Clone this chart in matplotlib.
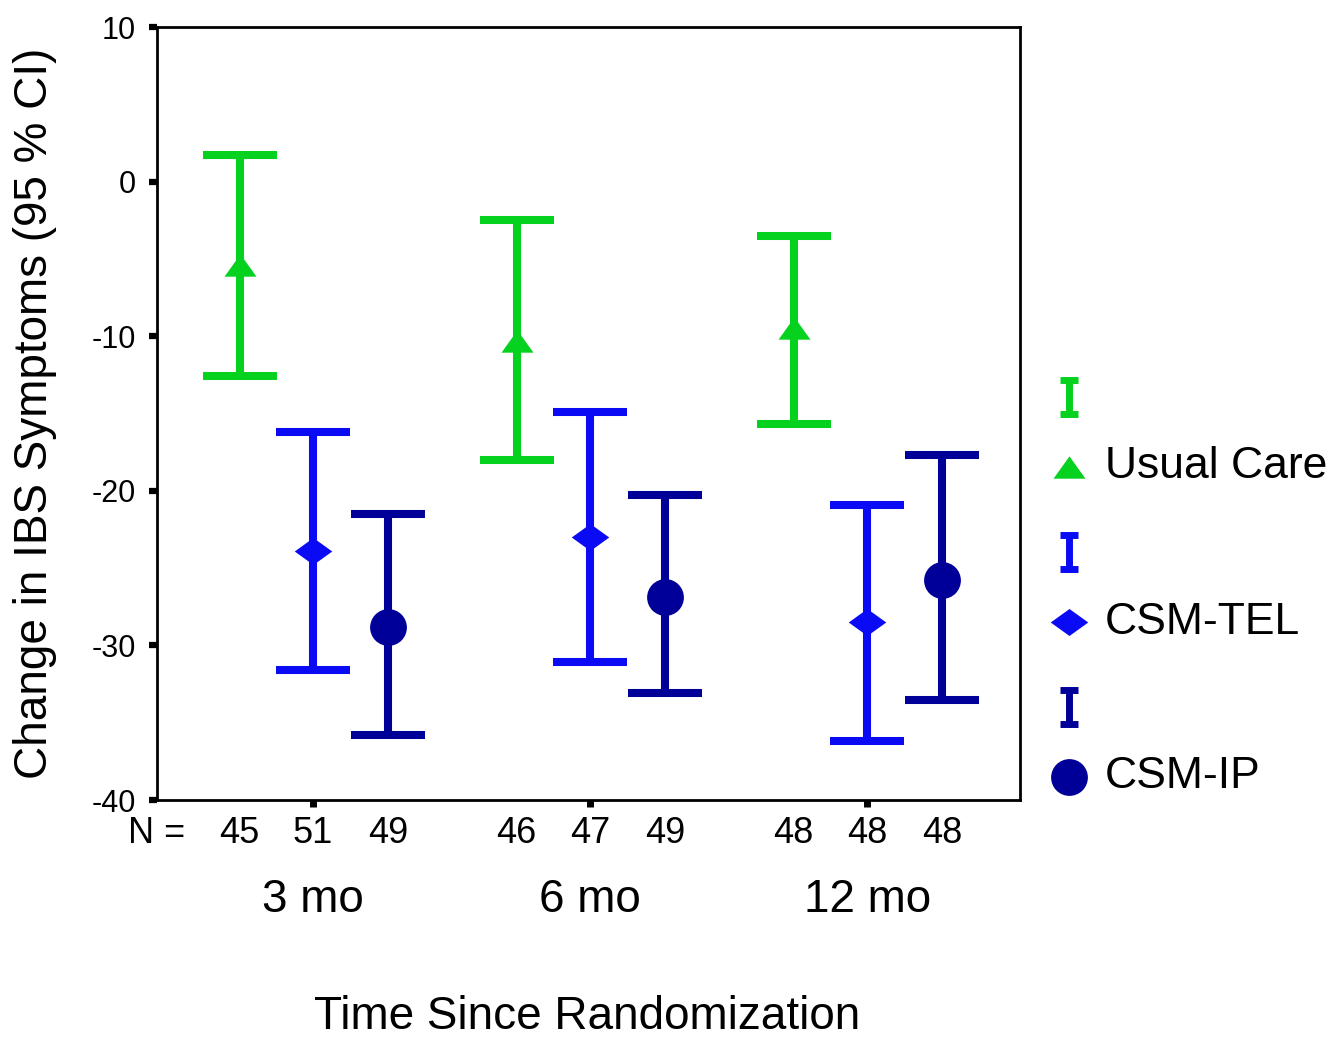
import matplotlib
matplotlib.use("Agg")
import matplotlib.pyplot as plt
from matplotlib.path import Path
import numpy as np

plt.rcParams['font.family'] = ['Liberation Sans', 'DejaVu Sans']

# data
periods = ["3 mo", "6 mo", "12 mo"]
groups = ["Usual Care", "CSM-TEL", "CSM-IP"]
means = {
    "Usual Care": [-5.4, -10.3, -9.5],
    "CSM-TEL": [-23.9, -23.0, -28.5],
    "CSM-IP": [-28.8, -26.9, -25.8],
}
upper = {
    "Usual Care": [1.7, -2.5, -3.5],
    "CSM-TEL": [-16.2, -14.9, -20.9],
    "CSM-IP": [-21.5, -20.3, -17.7],
}
lower = {
    "Usual Care": [-12.6, -18.0, -15.7],
    "CSM-TEL": [-31.6, -31.1, -36.2],
    "CSM-IP": [-35.8, -33.1, -33.5],
}
n_counts = {
    "Usual Care": [45, 46, 48],
    "CSM-TEL": [51, 47, 48],
    "CSM-IP": [49, 49, 48],
}
yticks = [10, 0, -10, -20, -30, -40]

colors = {"Usual Care": "#05D21E", "CSM-TEL": "#0A0AF5", "CSM-IP": "#000099"}
tri = Path([(-1, -0.7), (1, -0.7), (0, 0.7), (-1, -0.7)],
           [Path.MOVETO, Path.LINETO, Path.LINETO, Path.CLOSEPOLY])
dia = Path([(-1, 0), (0, 0.72), (1, 0), (0, -0.72), (-1, 0)],
           [Path.MOVETO, Path.LINETO, Path.LINETO, Path.LINETO, Path.CLOSEPOLY])
markers = {"Usual Care": (tri, 23), "CSM-TEL": (dia, 27), "CSM-IP": ("o", 26.5)}
offsets = {"Usual Care": -0.265, "CSM-TEL": 0.0, "CSM-IP": 0.27}

fig = plt.figure(figsize=(13.43, 10.39), dpi=100)
ax = fig.add_axes([0.1169, 0.230, 0.6426, 0.744])

xc = np.arange(1, len(periods) + 1)
for g in groups:
    m = np.array(means[g])
    lo = m - np.array(lower[g])
    hi = np.array(upper[g]) - m
    x = xc + offsets[g]
    ax.errorbar(x, m, yerr=[lo, hi], fmt="none", ecolor=colors[g],
                elinewidth=5.8, capsize=26.6, capthick=5.8, zorder=2)
    mk, ms = markers[g]
    ax.plot(x, m, linestyle="none", marker=mk, markersize=ms,
            color=colors[g], markeredgewidth=0, zorder=3)
    for xi, n in zip(x, n_counts[g]):
        ax.text(xi, -0.043, str(n), transform=ax.get_xaxis_transform(),
                ha="center", va="center", fontsize=26)

ax.text(0.437, -0.043, "N =", transform=ax.get_xaxis_transform(),
        ha="center", va="center", fontsize=26)
for xi, p in zip(xc, periods):
    ax.text(xi, -0.129, p, transform=ax.get_xaxis_transform(),
            ha="center", va="center", fontsize=33)

ax.set_xlim(0.437, 3.552)
ax.set_ylim(-40, 10)
ax.set_yticks(yticks)
ax.set_yticklabels([str(v) for v in yticks], fontsize=22)
ax.set_xticks(xc)
ax.set_xticklabels([])
ax.tick_params(axis="y", direction="out", length=6, width=4.5, pad=9)
ax.tick_params(axis="x", direction="out", length=5, width=5)
for s in ax.spines.values():
    s.set_linewidth(2)

ax.set_ylabel("Change in IBS Symptoms (95 % CI)", fontsize=33, va="center")
ax.yaxis.set_label_coords(-0.141, 0.5)
fig.text(0.4375, 0.021, "Time Since Randomization", ha="center",
         va="center", fontsize=33)

# legend drawn in pixel space
lax = fig.add_axes([0, 0, 1, 1])
lax.set_xlim(0, 1343)
lax.set_ylim(1039, 0)
lax.axis("off")
leg_y = {"Usual Care": 397, "CSM-TEL": 552, "CSM-IP": 707}
for g in groups:
    y0 = leg_y[g]
    lax.errorbar([1069], [y0], yerr=[[17], [17]], fmt="none", ecolor=colors[g],
                 elinewidth=5, capsize=6.2, capthick=5)
    mk, ms = markers[g]
    lax.plot([1069], [y0 + 70], linestyle="none", marker=mk, markersize=ms,
             color=colors[g], markeredgewidth=0)
    lax.text(1105, y0 + 70, g, ha="left", va="center", fontsize=32)

fig.savefig("out.png", dpi=100)
